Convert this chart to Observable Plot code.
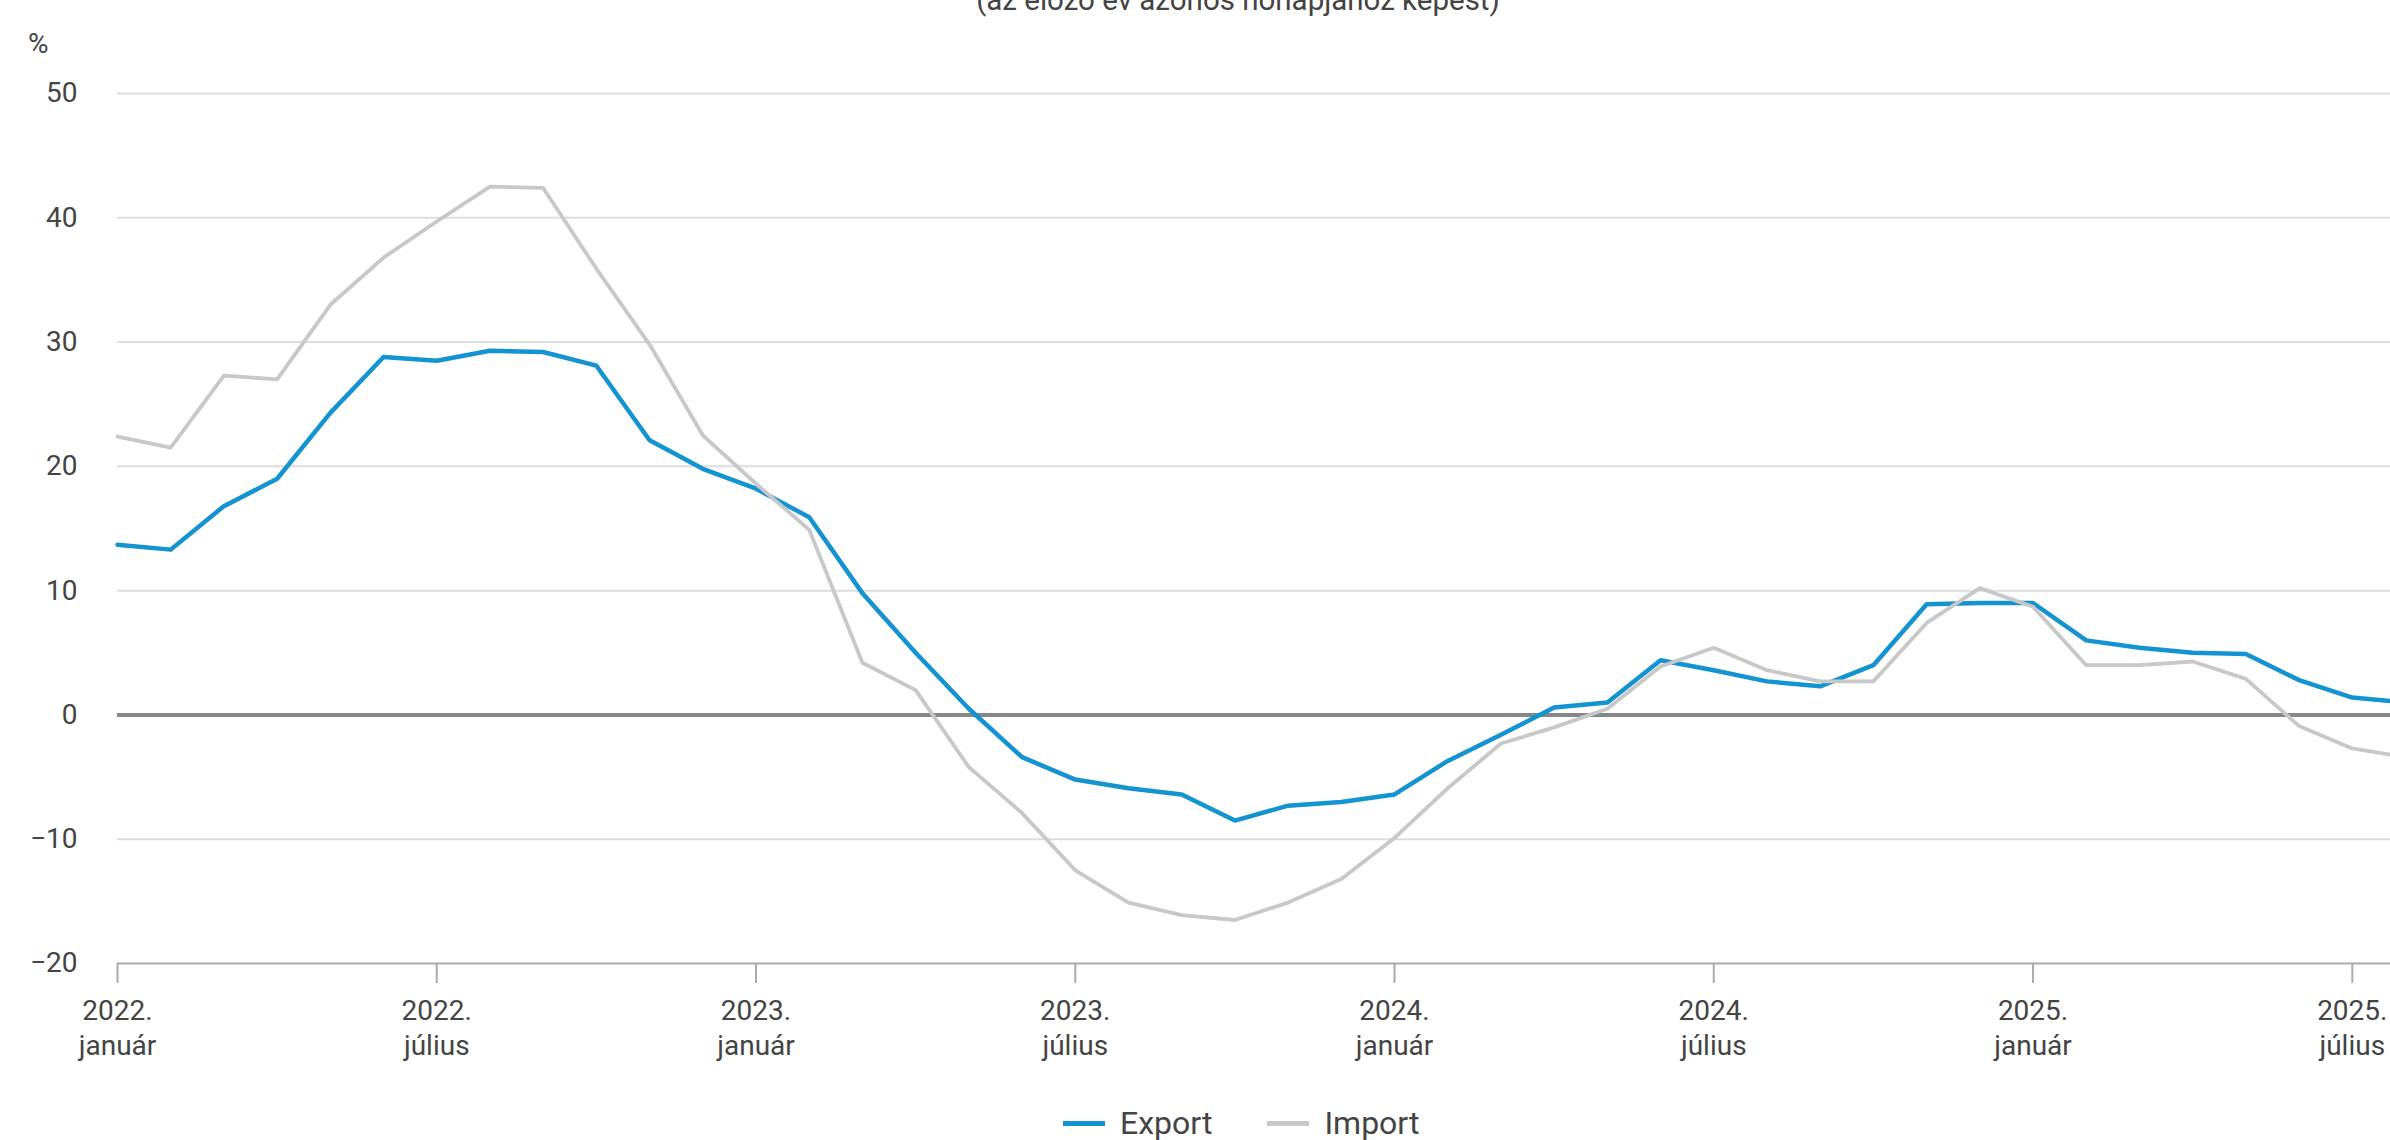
<!DOCTYPE html>
<html lang="hu">
<head>
<meta charset="utf-8">
<script src="https://cdn.jsdelivr.net/npm/d3@7"></script>
<script src="https://cdn.jsdelivr.net/npm/@observablehq/plot@0.6"></script>
<style>
  html, body { margin: 0; padding: 0; background: #fff; overflow: hidden; }
  body { width: 2390px; height: 1140px; position: relative; font-family: Roboto, "Noto Sans", sans-serif; color: #444; }
  #subtitle { position: absolute; z-index: 2; left: 0; width: 2476px; top: -14px; text-align: center; font-size: 29.5px; line-height: 1; color: #444; white-space: nowrap; }
  #unit { position: absolute; z-index: 2; left: 28px; top: 30px; font-size: 28px; line-height: 1; color: #444; }
  #chart { position: absolute; z-index: 1; left: 0; top: 0; width: 2476px; }
  #chart svg { max-width: none !important; }
  #legend { position: absolute; z-index: 2; left: 1063px; top: 1103px; height: 40px; display: flex; align-items: center; font-size: 32px; line-height: 40px; color: #444; white-space: nowrap; }
  .item { display: flex; align-items: center; margin-right: 55px; }
  .sw { width: 42px; height: 5px; margin-right: 15px; }
</style>
</head>
<body>
<div id="subtitle">(az előző év azonos hónapjához képest)</div>
<div id="unit">%</div>
<div id="chart"></div>
<div id="legend"></div>
<script>
const months = [
  "2022-01","2022-02","2022-03","2022-04","2022-05","2022-06","2022-07","2022-08","2022-09","2022-10","2022-11","2022-12",
  "2023-01","2023-02","2023-03","2023-04","2023-05","2023-06","2023-07","2023-08","2023-09","2023-10","2023-11","2023-12",
  "2024-01","2024-02","2024-03","2024-04","2024-05","2024-06","2024-07","2024-08","2024-09","2024-10","2024-11","2024-12",
  "2025-01","2025-02","2025-03","2025-04","2025-05","2025-06","2025-07","2025-08"
];
const exportValues = [
  13.7, 13.3, 16.8, 19.0, 24.3, 28.8, 28.5, 29.3, 29.2, 28.1, 22.1, 19.8,
  18.2, 15.9, 9.8, 5.0, 0.5, -3.4, -5.2, -5.9, -6.4, -8.5, -7.3, -7.0,
  -6.4, -3.7, -1.6, 0.6, 1.0, 4.4, 3.6, 2.7, 2.3, 4.0, 8.9, 9.0,
  9.0, 6.0, 5.4, 5.0, 4.9, 2.8, 1.4, 1.0
];
const importValues = [
  22.4, 21.5, 27.3, 27.0, 33.0, 36.8, 39.7, 42.5, 42.4, 35.9, 29.8, 22.5,
  18.6, 14.9, 4.2, 2.0, -4.2, -7.9, -12.5, -15.1, -16.1, -16.5, -15.1, -13.2,
  -9.9, -5.9, -2.3, -1.0, 0.5, 3.9, 5.4, 3.6, 2.7, 2.7, 7.4, 10.2,
  8.7, 4.0, 4.0, 4.3, 2.9, -0.9, -2.7, -3.4
];
const seriesNames = ["Export", "Import"];
const seriesColors = ["#1493d1", "#c8c8c8"];
const xTickMonths = ["2022-01","2022-07","2023-01","2023-07","2024-01","2024-07","2025-01","2025-07"];
const xTickLabels = ["2022.\njanuár","2022.\njúlius","2023.\njanuár","2023.\njúlius","2024.\njanuár","2024.\njúlius","2025.\njanuár","2025.\njúlius"];
const yTicks = [-20, -10, 0, 10, 20, 30, 40, 50];
const yTickLabels = ["−20", "−10", "0", "10", "20", "30", "40", "50"];

const rows = [];
months.forEach((m, i) => {
  rows.push({idx: i, month: m, series: seriesNames[0], value: exportValues[i]});
});
months.forEach((m, i) => {
  rows.push({idx: i, month: m, series: seriesNames[1], value: importValues[i]});
});
const xTicks = xTickMonths.map(m => months.indexOf(m));

const chart = Plot.plot({
  width: 2476,
  height: 1080,
  marginLeft: 117,
  marginRight: 71,
  marginTop: 93,
  marginBottom: 117,
  style: {fontFamily: "Roboto, 'Noto Sans', sans-serif", fontSize: "28px", color: "#444", background: "transparent", maxWidth: "none"},
  x: {type: "linear", domain: [0, months.length - 1], label: null},
  y: {domain: [-20, 50], label: null},
  color: {domain: seriesNames, range: seriesColors},
  marks: [
    Plot.gridY(yTicks.filter(t => t !== 0 && t !== -20), {stroke: "#dedede", strokeOpacity: 1, strokeWidth: 2}),
    Plot.ruleY([-20], {stroke: "#aaaaaa", strokeWidth: 2}),
    Plot.ruleY([0], {stroke: "#878787", strokeWidth: 4}),
    Plot.axisY({ticks: yTicks, tickSize: 0, tickPadding: 40, label: null, tickFormat: d => yTickLabels[yTicks.indexOf(d)], fill: "#444"}),
    Plot.axisX({ticks: xTicks, tickSize: 20, tickPadding: 12, label: null, stroke: "#aaaaaa", strokeWidth: 2, lineHeight: 1.25,
      tickFormat: d => xTickLabels[xTicks.indexOf(d)], fill: "#444"}),
    Plot.line(rows.filter(r => r.series === "Export"), {x: "idx", y: "value", stroke: "series", strokeWidth: 4.5, strokeLinejoin: "round"}),
    Plot.line(rows.filter(r => r.series === "Import"), {x: "idx", y: "value", stroke: "series", strokeWidth: 3.8, strokeLinejoin: "round"})
  ]
});
chart.style.maxWidth = "none";
chart.setAttribute("width", 2476);
document.getElementById("chart").appendChild(chart);

const legend = document.getElementById("legend");
seriesNames.forEach((name, i) => {
  const item = document.createElement("div");
  item.className = "item";
  const sw = document.createElement("span");
  sw.className = "sw";
  sw.style.background = seriesColors[i];
  const label = document.createElement("span");
  label.textContent = name;
  item.appendChild(sw);
  item.appendChild(label);
  legend.appendChild(item);
});
</script>
</body>
</html>
